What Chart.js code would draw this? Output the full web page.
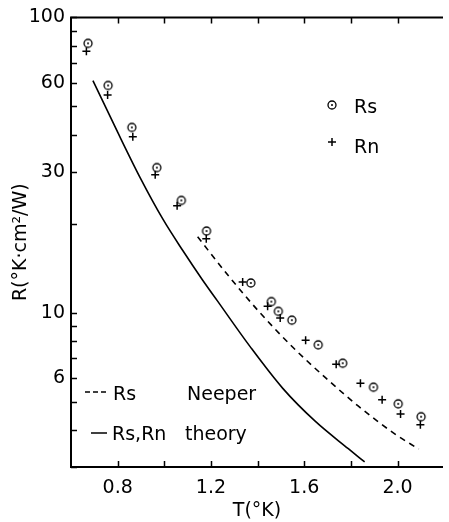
<!DOCTYPE html>
<html>
<head>
<meta charset="utf-8">
<script src="https://cdn.jsdelivr.net/npm/chart.js@4.4.1/dist/chart.umd.min.js"></script>
<style>
  html, body { margin: 0; padding: 0; background: #fff; }
  canvas { display: block; }
</style>
</head>
<body>
<canvas id="chart" width="449" height="522"></canvas>
<script>
// measured Rs (circles) and Rn (crosses)
const rsT = [0.673, 0.759, 0.861, 0.968, 1.073, 1.181, 1.371, 1.459, 1.489, 1.547, 1.660, 1.765, 1.897, 2.003, 2.101];
const rsR = [81.7, 58.8, 42.4, 31.0, 24.0, 18.9, 12.6, 10.9, 10.1, 9.43, 7.78, 6.74, 5.59, 4.91, 4.44];
const rnT = [0.666, 0.757, 0.865, 0.961, 1.055, 1.180, 1.336, 1.443, 1.497, 1.606, 1.737, 1.841, 1.934, 2.013, 2.098];
const rnR = [76.8, 54.6, 39.4, 29.3, 23.0, 17.8, 12.7, 10.5, 9.59, 8.06, 6.69, 5.77, 5.07, 4.54, 4.17];

// Neeper (dashed) and theory (solid) curves
const neeperT = [1.143, 1.277, 1.410, 1.550, 1.691, 1.831, 1.985, 2.091];
const neeperR = [18.06, 13.27, 10.0, 7.65, 6.02, 4.83, 3.90, 3.45];
const theoryT = [0.694, 0.799, 0.898, 0.996, 1.080, 1.164, 1.227, 1.368, 1.508, 1.648, 1.789, 1.859];
const theoryR = [61.1, 41.0, 28.5, 20.6, 16.2, 12.9, 10.98, 7.67, 5.54, 4.28, 3.46, 3.12];

const xTicks = [0.8, 1.0, 1.2, 1.4, 1.6, 1.8, 2.0];
const xLabels = [0.8, 1.2, 1.6, 2.0];
const yTicks = [3, 4, 5, 6, 7, 8, 9, 10, 20, 30, 40, 50, 60, 70, 80, 90, 100];
const yLabels = [6, 10, 30, 60, 100];

const FONT = '"DejaVu Sans", sans-serif';

function toPoints(xs, ys) {
  return xs.map(function (x, i) {
    return { x: x, y: ys[i] };
  });
}

// circle with a dot in the middle
function dotCircle() {
  const c = document.createElement('canvas');
  c.width = 12;
  c.height = 12;
  const g = c.getContext('2d');
  g.strokeStyle = '#000';
  g.lineWidth = 1.3;
  g.beginPath();
  g.arc(6, 6, 4, 0, Math.PI * 2);
  g.stroke();
  g.fillStyle = '#000';
  g.beginPath();
  g.arc(6, 6, 1, 0, Math.PI * 2);
  g.fill();
  return c;
}
const circleMark = dotCircle();

const framePlugin = {
  id: 'frame',
  afterDatasetsDraw(chart) {
    const ctx = chart.ctx;
    const a = chart.chartArea;
    const xs = chart.scales.x;
    const ys = chart.scales.y;
    ctx.save();
    ctx.strokeStyle = '#000';
    ctx.lineWidth = 2;
    ctx.beginPath();
    ctx.moveTo(a.left, a.top);
    ctx.lineTo(a.left, a.bottom);
    ctx.moveTo(a.left - 1, a.bottom);
    ctx.lineTo(a.right, a.bottom);
    ctx.moveTo(a.left - 1, a.top);
    ctx.lineTo(a.right, a.top);
    ctx.stroke();

    ctx.lineWidth = 1.5;
    ctx.beginPath();
    xTicks.forEach(function (v) {
      const px = Math.round(xs.getPixelForValue(v)) + 0.5;
      ctx.moveTo(px, a.bottom);
      ctx.lineTo(px, a.bottom - 6);
      ctx.moveTo(px, a.top);
      ctx.lineTo(px, a.top + 6);
    });
    yTicks.forEach(function (v) {
      const py = Math.round(ys.getPixelForValue(v)) + 0.5;
      ctx.moveTo(a.left, py);
      ctx.lineTo(a.left + 6, py);
    });
    ctx.stroke();

    // legends
    ctx.fillStyle = '#000';
    ctx.font = '19px ' + FONT;
    ctx.textBaseline = 'alphabetic';
    ctx.drawImage(circleMark, 326, 99);
    ctx.fillText('Rs', 354, 113);
    ctx.lineWidth = 1.5;
    ctx.beginPath();
    ctx.moveTo(328, 142);
    ctx.lineTo(336, 142);
    ctx.moveTo(332, 138);
    ctx.lineTo(332, 146);
    ctx.stroke();
    ctx.fillText('Rn', 354, 153);

    ctx.setLineDash([5, 3]);
    ctx.beginPath();
    ctx.moveTo(85, 392);
    ctx.lineTo(106, 392);
    ctx.stroke();
    ctx.setLineDash([]);
    ctx.fillText('Rs', 113, 400);
    ctx.fillText('Neeper', 187, 400);
    ctx.beginPath();
    ctx.moveTo(91, 433);
    ctx.lineTo(107, 433);
    ctx.stroke();
    ctx.fillText('Rs,Rn', 112, 440);
    ctx.fillText('theory', 185, 440);
    ctx.restore();
  }
};

new Chart(document.getElementById('chart'), {
  type: 'scatter',
  data: {
    datasets: [
      {
        label: 'Rs',
        data: toPoints(rsT, rsR),
        pointStyle: circleMark,
        pointRadius: 5,
        showLine: false
      },
      {
        label: 'Rn',
        data: toPoints(rnT, rnR),
        pointStyle: 'cross',
        pointRadius: 4,
        borderColor: '#000',
        borderWidth: 1.5,
        showLine: false
      },
      {
        label: 'Rs Neeper',
        data: toPoints(neeperT, neeperR),
        showLine: true,
        pointRadius: 0,
        borderColor: '#000',
        borderWidth: 1.6,
        borderDash: [6, 5],
        cubicInterpolationMode: 'monotone'
      },
      {
        label: 'Rs,Rn theory',
        data: toPoints(theoryT, theoryR),
        showLine: true,
        pointRadius: 0,
        borderColor: '#000',
        borderWidth: 1.6,
        cubicInterpolationMode: 'monotone'
      }
    ]
  },
  options: {
    responsive: false,
    animation: false,
    devicePixelRatio: 1,
    layout: { padding: { top: 15, right: 0, bottom: 0, left: 0 } },
    plugins: {
      legend: { display: false },
      tooltip: { enabled: false }
    },
    scales: {
      x: {
        type: 'linear',
        min: 0.6,
        max: 2.195,
        grid: { display: false, drawTicks: false },
        border: { display: false },
        afterBuildTicks: function (s) {
          s.ticks = xTicks.map(function (v) { return { value: v }; });
        },
        afterFit: function (s) { s.height = 55; },
        ticks: {
          autoSkip: false,
          maxRotation: 0,
          padding: 10,
          color: '#000',
          font: { family: FONT, size: 19 },
          callback: function (v) {
            return xLabels.some(function (l) { return Math.abs(l - v) < 1e-6; }) ? v.toFixed(1) : '';
          }
        },
        title: {
          display: true,
          text: 'T(°K)',
          color: '#000',
          font: { family: FONT, size: 19 },
          padding: { top: 0, bottom: 0 }
        }
      },
      y: {
        type: 'logarithmic',
        min: 3,
        max: 100,
        grid: { display: false, drawTicks: false },
        border: { display: false },
        afterBuildTicks: function (s) {
          s.ticks = yTicks.map(function (v) { return { value: v }; });
        },
        afterFit: function (s) { s.width = 71; },
        ticks: {
          autoSkip: false,
          padding: 6,
          color: '#000',
          font: { family: FONT, size: 19 },
          callback: function (v) {
            return yLabels.indexOf(v) >= 0 ? String(v) : '';
          }
        },
        title: {
          display: true,
          text: 'R(°K·cm²/W)',
          color: '#000',
          font: { family: FONT, size: 19 },
          padding: { top: 10, bottom: 0 }
        }
      }
    }
  },
  plugins: [framePlugin]
});
</script>
</body>
</html>
